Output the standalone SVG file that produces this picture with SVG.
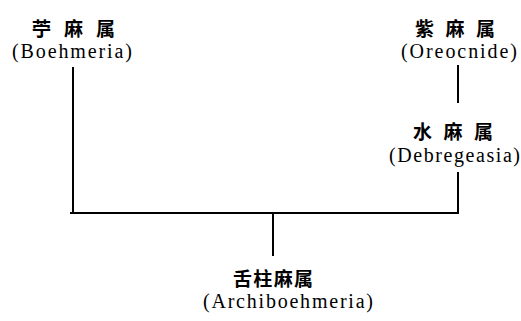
<svg xmlns="http://www.w3.org/2000/svg" width="521" height="321" viewBox="0 0 521 321">
<style>
.cjk{font-family:"Noto Sans CJK SC","Noto Sans CJK JP",sans-serif;font-size:19px;font-weight:bold;fill:#000}
.lat{font-family:"Liberation Serif","DejaVu Serif",serif;font-size:20px;fill:#000}
.ln{stroke:#000;stroke-width:2;fill:none}
</style>
<rect width="521" height="321" fill="#fff"/>
<g id="connectors">
<line class="ln" x1="73" y1="67" x2="73" y2="213"/>
<line class="ln" x1="70" y1="213" x2="459" y2="213"/>
<line class="ln" x1="458" y1="172" x2="458" y2="213"/>
<line class="ln" x1="458" y1="65" x2="458" y2="103"/>
<line class="ln" x1="273" y1="213" x2="273" y2="256"/>
</g>
<g id="boehmeria">
<text class="cjk" x="32 64 96" y="36">苧麻属</text>
<text class="lat" x="12" y="58" textLength="120" lengthAdjust="spacing">(Boehmeria)</text>
</g>
<g id="oreocnide">
<text class="cjk" x="415 445.5 476" y="36">紫麻属</text>
<text class="lat" x="401" y="58" textLength="116" lengthAdjust="spacing">(Oreocnide)</text>
</g>
<g id="debregeasia">
<text class="cjk" x="413 443.5 474" y="139">水麻属</text>
<text class="lat" x="389" y="162" textLength="131" lengthAdjust="spacing">(Debregeasia)</text>
</g>
<g id="archiboehmeria">
<text class="cjk" x="233" y="286" textLength="80" lengthAdjust="spacing">舌柱麻属</text>
<text class="lat" x="203" y="308" textLength="170" lengthAdjust="spacing">(Archiboehmeria)</text>
</g>
</svg>
